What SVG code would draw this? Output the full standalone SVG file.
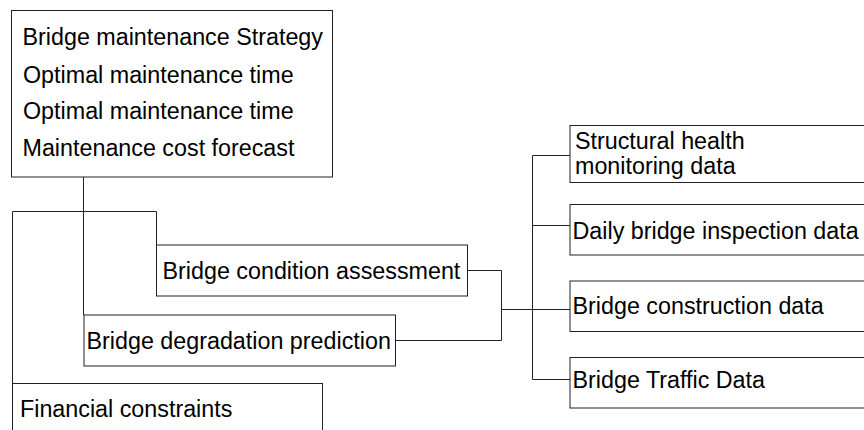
<svg xmlns="http://www.w3.org/2000/svg" width="864" height="430" viewBox="0 0 864 430">
<style>
.box{fill:#fff;stroke:#222;stroke-width:1}
.t{font-family:"Liberation Sans",Arial,sans-serif;font-size:23.3px;fill:#000}
.c{fill:none;stroke:#222;stroke-width:1}
</style>
<rect width="864" height="430" fill="#fff"/>
<g id="connectors">
<polyline class="c" points="83.5,177 83.5,315"/>
<polyline class="c" points="12.5,383.5 12.5,211.5 156.5,211.5 156.5,245"/>
<polyline class="c" points="467.5,270.5 501.5,270.5 501.5,340.5 395.5,340.5"/>
<polyline class="c" points="501.5,309.5 570,309.5"/>
<polyline class="c" points="570,155.5 532.5,155.5 532.5,379.5 570,379.5"/>
<polyline class="c" points="532.5,225.5 570,225.5"/>
</g>
<g id="strategy">
<rect class="box" x="11.5" y="10.5" width="321" height="166.5"/>
<text class="t" x="22.5" y="45">Bridge maintenance Strategy</text>
<text class="t" x="23" y="82.5">Optimal maintenance time</text>
<text class="t" x="23" y="119">Optimal maintenance time</text>
<text class="t" x="22.5" y="156">Maintenance cost forecast</text>
</g>
<g id="condition">
<rect class="box" x="156.5" y="245" width="311" height="51"/>
<text class="t" x="162.5" y="278.5">Bridge condition assessment</text>
</g>
<g id="degradation">
<rect class="box" x="84" y="315" width="311.5" height="51"/>
<text class="t" x="86.5" y="348.5">Bridge degradation prediction</text>
</g>
<g id="financial">
<rect class="box" x="12.5" y="383.5" width="310" height="60"/>
<text class="t" x="20" y="417">Financial constraints</text>
</g>
<g id="shm">
<rect class="box" x="570" y="125.5" width="300" height="57"/>
<text class="t" x="575" y="148.5">Structural health</text>
<text class="t" x="575" y="173.5">monitoring data</text>
</g>
<g id="inspection">
<rect class="box" x="570" y="204.5" width="300" height="50.5"/>
<text class="t" x="572.5" y="238.5">Daily bridge inspection data</text>
</g>
<g id="construction">
<rect class="box" x="570" y="281" width="300" height="50.5"/>
<text class="t" x="572.5" y="314">Bridge construction data</text>
</g>
<g id="traffic">
<rect class="box" x="570" y="357.5" width="300" height="50.5"/>
<text class="t" x="572.5" y="388">Bridge Traffic Data</text>
</g>
</svg>
